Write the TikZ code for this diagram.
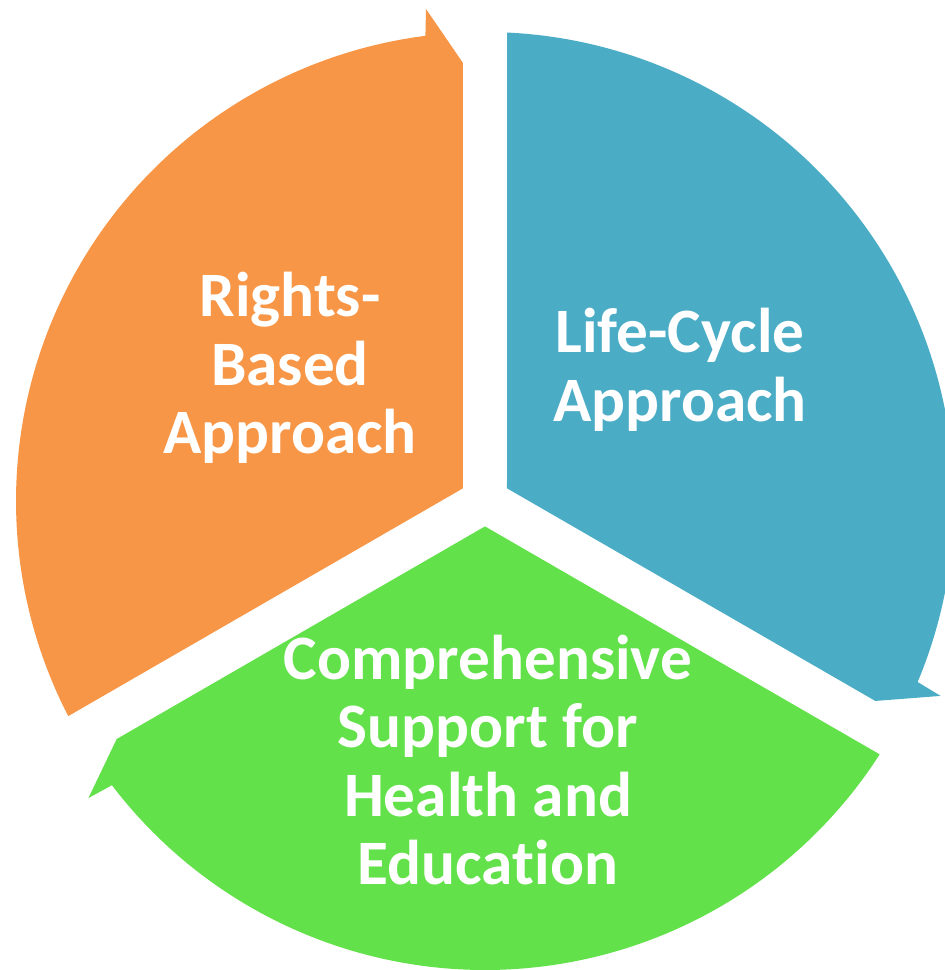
\documentclass[tikz,border=0pt]{standalone}
\usepackage{fontspec}
\setmainfont[Ligatures=NoCommon]{Carlito}
\definecolor{rightsorange}{HTML}{F79646}
\definecolor{cycleblue}{HTML}{4BACC6}
\definecolor{supportgreen}{HTML}{62E14A}
\begin{document}
\begin{tikzpicture}[
		label/.style={text=white,align=center,font=\fontsize{18}{19.5}\selectfont\bfseries}]
		\useasboundingbox (-4.85,-4.69) rectangle (4.59,5.01);
		\pgfmathsetmacro{\R}{4.69}
		\pgfmathsetmacro{\g}{0.22}
		\foreach \ang/\col in {0/rightsorange,-120/cycleblue,120/supportgreen}{
			\fill[\col,rotate=\ang]
				(-\g,0.127)--(-\g,4.38)--(-0.59,4.92)--(97.3:\R)
				arc[start angle=97.3,end angle=207.3,radius=\R]--cycle;
		}
		\node[label] (rights) at (-1.95,1.33) {Rights-\\Based\\Approach};
		\node[label] (lifecycle) at (1.95,1.31) {Life-Cycle\\Approach};
		\node[label] (support) at (0.03,-2.59) {Comprehensive\\Support for\\Health and\\Education};
	\end{tikzpicture}
\end{document}
